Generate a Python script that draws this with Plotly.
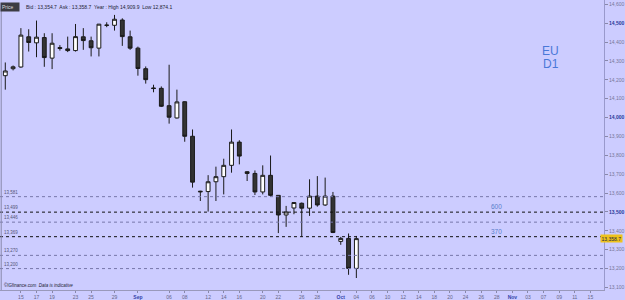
import plotly.graph_objects as go

# ---- data ----
bar_index = list(range(-2, 44))
opens = [14222, 14259, 14268, 14428, 14396, 14424, 14315, 14371, 14364, 14355, 14428, 14407,
         14368, 14490, 14489, 14517, 14428, 14368, 14259, 14157, 14155, 14063, 13998, 14084,
         13901, 13610, 13608, 13660, 13687, 13747, 13870, 13713, 13704, 13606, 13694, 13588,
         13484, 13521, 13546, 13520, 13584, 13537, 13584, 13344, 13360, 13201]
closes = [14247, 14269, 14437, 14398, 14426, 14318, 14394, 14366, 14355, 14429, 14408, 14370,
          14495, 14489, 14521, 14429, 14368, 14260, 14201, 14154, 14060, 14002, 14083, 13901,
          13658, 13607, 13660, 13687, 13747, 13870, 13796, 13704, 13606, 13694, 13588, 13484,
          13500, 13550, 13520, 13584, 13537, 13584, 13391, 13360, 13201, 13358.7]
highs = [14292, 14276, 14474, 14468, 14514, 14447, 14447, 14384, 14429, 14496, 14474, 14429,
         14496, 14505, 14544, 14526, 14461, 14376, 14271, 14174, 14165, 14280, 14148, 14086,
         13937, 13612, 13695, 13740, 13782, 13937, 13880, 13716, 13720, 13747, 13799, 13588,
         13532, 13550, 13550, 13673, 13690, 13682, 13606, 13368, 13386, 13373]
lows = [14148, 14250, 14264, 14350, 14320, 14269, 14257, 14355, 14347, 14350, 14359, 14324,
        14324, 14479, 14461, 14380, 14359, 14222, 14180, 14134, 14056, 13968, 13995, 13872,
        13629, 13558, 13502, 13558, 13593, 13708, 13752, 13664, 13590, 13593, 13581, 13388,
        13421, 13488, 13368, 13479, 13528, 13532, 13388, 13326, 13167, 13150]

tick_index = [0, 2, 4, 7, 9, 12, 15, 19, 21, 24, 26, 28, 31, 33, 36, 38, 41, 43, 45, 47, 49,
              51, 53, 55, 57, 59, 61, 63, 65, 67, 69, 71, 73]
tick_labels = ["15", "17", "19", "23", "25", "29", "Sep", "06", "08", "12", "14", "16", "20",
               "22", "26", "28", "Oct", "04", "06", "10", "12", "14", "18", "20", "24", "26",
               "28", "Nov", "03", "07", "09", "11", "15"]
month_labels = ["Sep", "Oct", "Nov"]

price_ticks = [13100, 13200, 13300, 13400, 13500, 13600, 13700, 13800, 13900, 14000,
               14100, 14200, 14300, 14400, 14500, 14600]
major_ticks = [13500, 14000, 14500]

levels = [13581, 13499, 13446, 13369, 13270, 13200]
level_strong = [False, True, False, True, False, False]
gap_texts = ["600", "370"]
gap_prices = [13528, 13396]
gap_bar = 61

last_price = 13358.7
header = "Bid : 13,354.7  Ask : 13,358.7  Year : High 14,909.9  Low 12,874.1"
footer_a = "©IGfinance.com"
footer_b = "Data is indicative"
market = "EU"
period = "D1"

BG = "#CCCCFF"
FONT = "Liberation Sans, Arial, sans-serif"

fig = go.Figure()
fig.add_trace(go.Candlestick(
    x=bar_index, open=opens, high=highs, low=lows, close=closes,
    increasing=dict(fillcolor="#FFFFFF", line=dict(color="#1a1a1a", width=1)),
    decreasing=dict(fillcolor="#333333", line=dict(color="#1a1a1a", width=1)),
    whiskerwidth=0, showlegend=False, hoverinfo="skip",
))

# level lines and their labels
for lv, strong in zip(levels, level_strong):
    fig.add_shape(type="line", xref="paper", x0=0, x1=1, yref="y", y0=lv, y1=lv,
                  line=dict(color="#111111" if strong else "#7777AA", width=1, dash="dot"))
    fig.add_annotation(xref="paper", x=0.004, yref="y", y=lv, text=f"{lv:,}",
                       showarrow=False, xanchor="left", yanchor="bottom", yshift=0,
                       font=dict(family=FONT, size=4.5, color="#555577"))

for t, p in zip(gap_texts, gap_prices):
    fig.add_annotation(x=gap_bar, y=p, text=t, showarrow=False,
                       font=dict(family=FONT, size=6.5, color="#5A7FCC"))

# EU / D1
fig.add_annotation(xref="paper", yref="paper", x=564 / 607, y=1 - 42 / 291, text=market,
                   showarrow=False, font=dict(family=FONT, size=12, color="#4A78D8"))
fig.add_annotation(xref="paper", yref="paper", x=564 / 607, y=1 - 55 / 291, text=period,
                   showarrow=False, font=dict(family=FONT, size=12, color="#4A78D8"))

# header bar
fig.add_annotation(xref="paper", yref="paper", x=0, y=1 - 2 / 291, text="Price   ",
                   showarrow=False, xanchor="left", yanchor="top", bgcolor="#3C3C44",
                   borderpad=1, font=dict(family=FONT, size=5, color="#DDDDDD"))
fig.add_annotation(xref="paper", yref="paper", x=24 / 607, y=1 - 2 / 291, text=header,
                   showarrow=False, xanchor="left", yanchor="top", borderpad=1,
                   font=dict(family=FONT, size=5, color="#222233"))

# footer
fig.add_annotation(xref="paper", yref="paper", x=0.003, y=0.0, text=f"{footer_a}  <i>{footer_b}</i>",
                   showarrow=False, xanchor="left", yanchor="bottom",
                   font=dict(family=FONT, size=4.5, color="#222233"))

# current price tag
fig.add_annotation(xref="paper", x=1, yref="y", y=last_price, text=f"{last_price:,.1f}",
                   showarrow=False, xanchor="left", xshift=-4, bgcolor="#EEC21C",
                   borderpad=0.5, font=dict(family=FONT, size=5, color="#222244"))

# left border
fig.add_shape(type="line", xref="paper", yref="paper", x0=0.002, x1=0.002, y0=0, y1=0.97,
              line=dict(color="#8888AA", width=1))

xt = [f"<b><span style='color:#3344AA'>{t}</span></b>" if t in month_labels else t
      for t in tick_labels]
yt = [f"<b><span style='color:#2A3A99'>{v:,}</span></b>" if v in major_ticks else f"{v:,}"
      for v in price_ticks]

fig.update_layout(
    width=625, height=300,
    margin=dict(l=0, r=18, t=0, b=9),
    paper_bgcolor=BG, plot_bgcolor=BG,
    font=dict(family=FONT, size=5, color="#666688"),
    xaxis=dict(range=[-21 / 7.84, 586 / 7.84], tickmode="array", tickvals=tick_index,
               ticktext=xt, ticks="outside", ticklen=2, tickcolor="#8888AA",
               showgrid=False, zeroline=False, showline=True, linecolor="#9999BB",
               tickfont=dict(size=5, color="#666688"), rangeslider=dict(visible=False)),
    yaxis=dict(range=[13086.5, 14623], side="right", tickmode="array", tickvals=price_ticks,
               ticktext=yt, ticks="outside", ticklen=3, tickcolor="#8888AA",
               showgrid=False, zeroline=False, showline=True, linecolor="#9999CC",
               tickfont=dict(size=5, color="#777799")),
)

fig.write_html("out.html")
